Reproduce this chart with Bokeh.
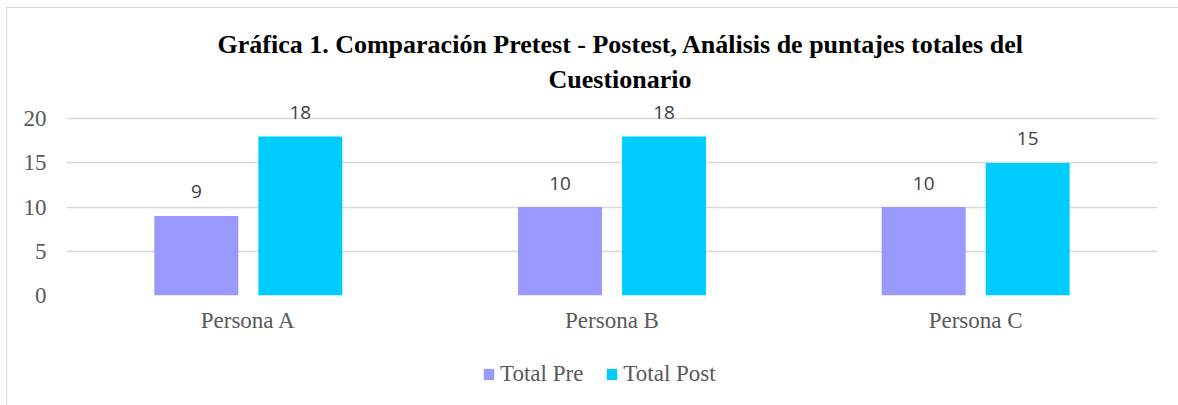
from bokeh.plotting import figure
from bokeh.models import ColumnDataSource, FactorRange, Range1d, FixedTicker, Legend, LegendItem, Title
from bokeh.layouts import column
from bokeh.transform import dodge
from bokeh.core.properties import value
from bokeh.embed import file_html
from bokeh.resources import INLINE

categories = ["Persona A", "Persona B", "Persona C"]
total_pre = [9, 10, 10]
total_post = [18, 18, 15]
series_names = ["Total Pre", "Total Post"]
y_ticks = [0, 5, 10, 15, 20]

title_line1 = "Gráfica 1. Comparación Pretest - Postest, Análisis de puntajes totales del"
title_line2 = "Cuestionario"

pre_color = "#9999ff"
post_color = "#00ccff"

src = ColumnDataSource(dict(
    cat=categories,
    pre=total_pre,
    post=total_post,
    pre_lbl=[str(v) for v in total_pre],
    post_lbl=[str(v) for v in total_post],
))

p = figure(
    width=1178, height=350,
    x_range=FactorRange(*categories, range_padding=0),
    y_range=Range1d(0, 22.4),
    output_backend="svg", toolbar_location=None,
    title_location=None,
    min_border_left=66, min_border_right=21, min_border_top=97, min_border_bottom=55,
)
p.outline_line_color = None
p.background_fill_color = "white"
p.border_fill_color = None

serif = "Liberation Serif"
t2 = Title(text=title_line2, align="left", text_font=serif, text_font_style="bold",
           text_font_size="26px", text_color="black", standoff=8, offset=482)
t1 = Title(text=title_line1, align="left", text_font=serif, text_font_style="bold",
           text_font_size="26px", text_color="black", standoff=0, offset=151)
p.add_layout(t2, "above")
p.add_layout(t1, "above")

off = 0.143
w = 0.231
r_pre = p.vbar(x=dodge("cat", -off, range=p.x_range), top="pre", width=w, bottom=0,
               source=src, fill_color=pre_color, line_color=None)
r_post = p.vbar(x=dodge("cat", off, range=p.x_range), top="post", width=w, bottom=0,
                source=src, fill_color=post_color, line_color=None)

lab_font = "Open Sans"
p.text(x=dodge("cat", -off, range=p.x_range), y="pre", text="pre_lbl", source=src,
       text_align="center", text_baseline="alphabetic", y_offset=-24,
       text_font=value(lab_font), text_font_size="19px", text_color="#404040")
p.text(x=dodge("cat", off, range=p.x_range), y="post", text="post_lbl", source=src,
       text_align="center", text_baseline="alphabetic", y_offset=-24,
       text_font=value(lab_font), text_font_size="19px", text_color="#404040")

p.xgrid.grid_line_color = None
p.ygrid.grid_line_color = "#d9d9d9"
p.ygrid.grid_line_width = 1.5
p.yaxis.ticker = FixedTicker(ticks=y_ticks)

for ax in (p.xaxis[0], p.yaxis[0]):
    ax.axis_line_color = None
    ax.major_tick_line_color = None
    ax.minor_tick_line_color = None
    ax.major_tick_out = 0
    ax.major_tick_in = 0
    ax.minor_tick_out = 0
    ax.major_label_text_font = serif
    ax.major_label_text_font_size = "23px"
    ax.major_label_text_color = "#595959"
p.yaxis.major_label_standoff = 20
p.xaxis.major_label_standoff = 12

# legend row underneath (its frame is aligned with the main plot's frame)
p2 = figure(
    width=1178, height=55,
    x_range=Range1d(0, 1), y_range=Range1d(0, 1),
    x_axis_type=None, y_axis_type=None,
    output_backend="svg", toolbar_location=None,
    min_border_left=0, min_border_right=0, min_border_top=0, min_border_bottom=0,
)
p2.outline_line_color = None
p2.background_fill_color = None
p2.border_fill_color = None
p2.xgrid.grid_line_color = None
p2.ygrid.grid_line_color = None
lg_pre = p2.vbar(x=[5], top=[5], bottom=[4], width=0.1, fill_color=pre_color, line_color=None)
lg_post = p2.vbar(x=[5], top=[5], bottom=[4], width=0.1, fill_color=post_color, line_color=None)

legend = Legend(
    items=[LegendItem(label=series_names[0], renderers=[lg_pre]),
           LegendItem(label=series_names[1], renderers=[lg_post])],
    orientation="horizontal", location=(416, 18),
    border_line_color=None, background_fill_alpha=0,
    label_text_font=serif, label_text_font_size="23px", label_text_color="#595959",
    glyph_width=13, glyph_height=14, label_standoff=5, spacing=22,
    margin=0, padding=0,
)
p2.add_layout(legend, "center")

frame_bg = ("linear-gradient(#d9d9d9, #d9d9d9) 6px 7px / 1px 100% no-repeat, "
            "linear-gradient(#d9d9d9, #d9d9d9) 6px 7px / 100% 1px no-repeat, white")
layout = column(p, p2, spacing=0, styles={"background": frame_bg})
open("out.html", "w").write(file_html(layout, INLINE))
